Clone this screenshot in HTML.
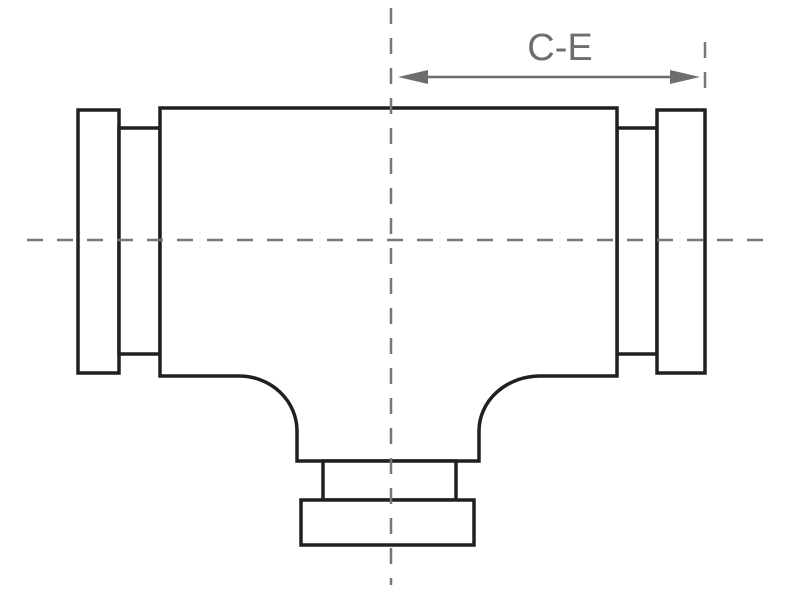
<!DOCTYPE html>
<html><head><meta charset="utf-8"><style>html,body{margin:0;padding:0;background:#fff}svg{display:block}</style></head>
<body>
<svg width="800" height="600" viewBox="0 0 800 600" xmlns="http://www.w3.org/2000/svg">
<g fill="none" stroke="#231f20" stroke-width="3.5">
<rect x="78" y="110" width="41" height="263" fill="#fff"/>
<rect x="119" y="128" width="41" height="226" fill="#fff"/>
<rect x="617" y="128" width="40" height="226" fill="#fff"/>
<rect x="657" y="110" width="48" height="263" fill="#fff"/>
<path d="M160 108 H617 V376 H540 A61 55 0 0 0 479 431 V461 H297 V431 A58 55 0 0 0 239 376 H160 Z" fill="#fff"/>
<rect x="323" y="461" width="133" height="39" fill="#fff"/>
<rect x="301" y="500" width="173" height="45" fill="#fff"/>
</g>
<g stroke="#777" stroke-width="2.5" stroke-dasharray="16,14" fill="none">
<line x1="391" y1="8" x2="391" y2="585"/>
<line x1="27" y1="240" x2="770" y2="240"/>
<line x1="705" y1="42" x2="705" y2="92"/>
</g>
<g fill="#6d6e70" stroke="#6d6e70">
<line x1="420" y1="77" x2="680" y2="77" stroke-width="2.5"/>
<polygon points="398,77 428,70 428,84" stroke="none"/>
<polygon points="700,77 670,70 670,84" stroke="none"/>
</g>
<text x="560" y="60" font-family="Liberation Sans, sans-serif" font-size="38" fill="#6d6e70" text-anchor="middle">C-E</text>
</svg>
</body></html>
